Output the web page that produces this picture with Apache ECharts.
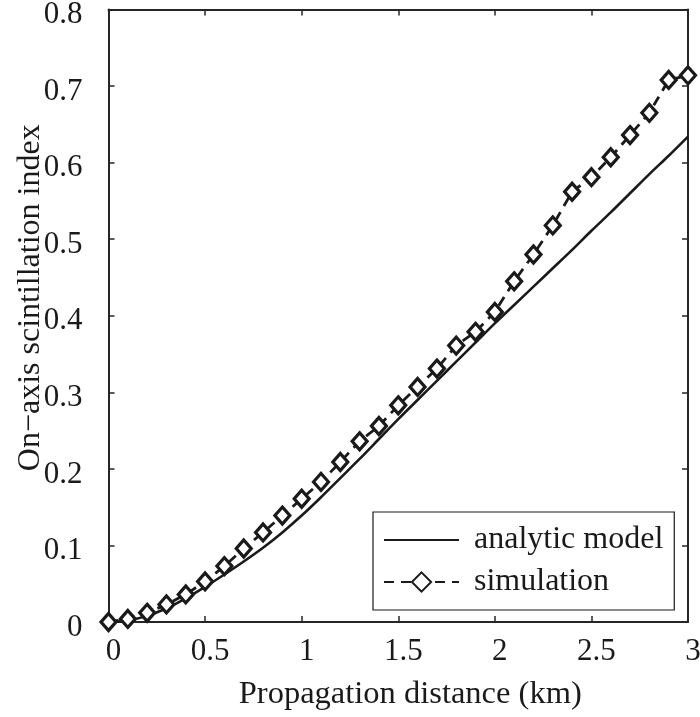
<!DOCTYPE html>
<html>
<head>
<meta charset="utf-8">
<script src="https://cdn.jsdelivr.net/npm/echarts@6/dist/echarts.min.js"></script>
<style>
  html, body { margin: 0; padding: 0; background: #ffffff; }
  #chart { width: 700px; height: 717px; }
</style>
</head>
<body>
<div id="chart"></div>
<script>
// Propagation distance grid (km)
const distance = [0, 0.1, 0.2, 0.3, 0.4, 0.5, 0.6, 0.7, 0.8, 0.9, 1.0,
  1.1, 1.2, 1.3, 1.4, 1.5, 1.6, 1.7, 1.8, 1.9, 2.0,
  2.1, 2.2, 2.3, 2.4, 2.5, 2.6, 2.7, 2.8, 2.9, 3.0];

// On-axis scintillation index from the analytic model
const analyticModel = [0, 0.002, 0.008, 0.018, 0.031, 0.046, 0.062, 0.079, 0.097, 0.117, 0.139,
  0.163, 0.188, 0.213, 0.239, 0.265, 0.290, 0.315, 0.340, 0.365, 0.390,
  0.414, 0.438, 0.462, 0.486, 0.511, 0.535, 0.560, 0.585, 0.609, 0.634];

// On-axis scintillation index from the wave-optics simulation
const simulation = [0, 0.004, 0.012, 0.023, 0.036, 0.053, 0.073, 0.096, 0.117, 0.139, 0.161,
  0.183, 0.209, 0.236, 0.256, 0.283, 0.307, 0.331, 0.361, 0.379, 0.405,
  0.445, 0.480, 0.518, 0.562, 0.581, 0.607, 0.636, 0.665, 0.708, 0.714];

const seriesNames = ['analytic model', 'simulation'];
const xTitle = 'Propagation distance (km)';
const yTitle = 'On\u2212axis scintillation index';

const pairs = (xs, ys) => xs.map((x, i) => [x, ys[i]]);

const FONT = '"Liberation Serif", "Times New Roman", serif';
const INK = '#1a1a1a';
const AXIS = '#262626';

const chart = echarts.init(document.getElementById('chart'), null, { renderer: 'canvas' });

const frameLine = { show: true, onZero: false, lineStyle: { color: AXIS, width: 2 } };
const inTicks = { show: true, inside: true, length: 6, lineStyle: { color: AXIS, width: 1.5 } };
const tickFont = { fontFamily: FONT, fontSize: 31, color: INK };

chart.setOption({
  backgroundColor: '#ffffff',
  animation: false,
  grid: {
    left: 108.5, right: 12, top: 9.5, bottom: 95,
    containLabel: false,
    outerBoundsMode: 'none'
  },
  legend: {
    orient: 'vertical',
    left: 373,
    top: 512,
    width: 305,
    padding: [12, 11, 12, 10],
    itemGap: 10,
    itemWidth: 75,
    itemHeight: 24,
    borderColor: '#1a1a1a',
    borderWidth: 1.2,
    borderRadius: 0,
    backgroundColor: '#ffffff',
    selectedMode: false,
    textStyle: { fontFamily: FONT, fontSize: 32, color: INK, padding: [0, 0, 0, 10] },
    data: [
      { name: seriesNames[0], itemStyle: { opacity: 0 } },
      { name: seriesNames[1] }
    ]
  },
  xAxis: [
    {
      type: 'value', min: 0, max: 3, interval: 0.5,
      name: xTitle, nameLocation: 'middle', nameGap: 56, nameMoveOverlap: false,
      nameTextStyle: { fontFamily: FONT, fontSize: 32.5, color: INK, padding: [0, 0, 0, 24] },
      axisLine: frameLine, axisTick: inTicks, splitLine: { show: false },
      axisLabel: {
        margin: 14,
        formatter: v => '{t|' + v + '}',
        rich: { t: Object.assign({ padding: [0, 0, 0, 10] }, tickFont) }
      }
    },
    {
      type: 'value', min: 0, max: 3, interval: 0.5, position: 'top',
      axisLine: frameLine, axisTick: inTicks, splitLine: { show: false },
      axisLabel: { show: false }
    }
  ],
  yAxis: [
    {
      type: 'value', min: 0, max: 0.8, interval: 0.1,
      name: yTitle, nameLocation: 'middle', nameGap: 62, nameMoveOverlap: false,
      nameTextStyle: { fontFamily: FONT, fontSize: 32, color: INK, padding: [0, 0, 0, 36] },
      axisLine: frameLine, axisTick: inTicks, splitLine: { show: false },
      axisLabel: {
        margin: 26,
        formatter: v => '{t|' + v + '}',
        rich: { t: Object.assign({ padding: [11, 0, 0, 0] }, tickFont) }
      }
    },
    {
      type: 'value', min: 0, max: 0.8, interval: 0.1, position: 'right',
      axisLine: frameLine, axisTick: inTicks, splitLine: { show: false },
      axisLabel: { show: false }
    }
  ],
  series: [
    {
      name: seriesNames[0],
      type: 'line',
      data: pairs(distance, analyticModel),
      smooth: 0.3,
      showSymbol: false,
      symbol: 'none',
      clip: false,
      lineStyle: { color: INK, width: 2.6, type: 'solid' },
      itemStyle: { color: INK }
    },
    {
      name: seriesNames[1],
      type: 'line',
      data: pairs(distance, simulation),
      symbol: 'diamond',
      symbolSize: [15, 17],
      clip: false,
      lineStyle: { color: INK, width: 2.8, type: [10, 7] },
      itemStyle: { color: '#ffffff', borderColor: INK, borderWidth: 3.2 }
    }
  ]
});
</script>
</body>
</html>
